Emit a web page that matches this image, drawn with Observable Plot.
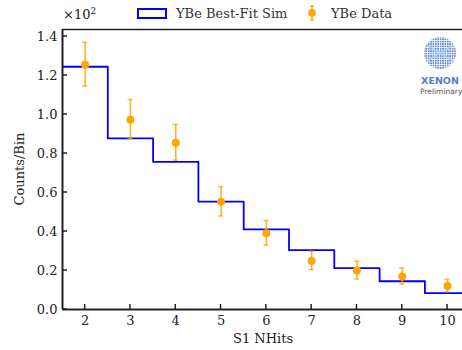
<!DOCTYPE html>
<html>
<head>
<meta charset="utf-8">
<script src="https://cdn.jsdelivr.net/npm/d3@7"></script>
<script src="https://cdn.jsdelivr.net/npm/@observablehq/plot@0.6"></script>
<style>
  html, body { margin: 0; padding: 0; background: #fff; overflow: hidden; }
  #wrap { position: relative; width: 462px; height: 350px; font-family: "DejaVu Serif", serif; color: #222; }
  .lab { position: absolute; font-size: 13px; white-space: nowrap; }
  #wrap svg text { font-family: "DejaVu Serif", serif !important; }
</style>
</head>
<body>
<div id="wrap"></div>
<script>
// ---- data ----
const bins = [2, 3, 4, 5, 6, 7, 8, 9, 10];
const simCounts = [1.245, 0.878, 0.757, 0.553, 0.411, 0.304, 0.212, 0.145, 0.084];
const dataCounts = [1.255, 0.973, 0.855, 0.552, 0.391, 0.249, 0.200, 0.169, 0.121];
const dataErr = [0.112, 0.101, 0.092, 0.075, 0.063, 0.047, 0.046, 0.042, 0.032];
const xTicks = [2, 3, 4, 5, 6, 7, 8, 9, 10];
const yTicks = [0, 0.2, 0.4, 0.6, 0.8, 1.0, 1.2, 1.4];

// step table: bin edges
const steps = bins.map((b, i) => ({x: b - 0.5, y: simCounts[i]}));
steps.push({x: bins[bins.length - 1] + 0.5, y: simCounts[simCounts.length - 1]});
const pts = bins.map((b, i) => ({x: b, y: dataCounts[i], lo: dataCounts[i] - dataErr[i], hi: dataCounts[i] + dataErr[i]}));

const xDom = [1.5, 10.33];
const yDom = [0, 1.436];
const axisColor = "#222";
const serif = "DejaVu Serif, serif";

const chart = Plot.plot({
  width: 462,
  height: 350,
  marginLeft: 62,
  marginRight: 0,
  marginTop: 29,
  marginBottom: 41,
  style: {fontFamily: serif, fontSize: "13px", color: "#222", background: "white"},
  x: {type: "linear", domain: xDom, label: null},
  y: {type: "linear", domain: yDom, label: null},
  marks: [
    Plot.line(steps, {x: "x", y: "y", curve: "step-after", stroke: "#0000ff", strokeWidth: 1.8, clip: true}),
    Plot.ruleX(pts, {x: "x", y1: "lo", y2: "hi", stroke: "orange", strokeWidth: 1.6, strokeOpacity: 0.85}),
    Plot.dot(pts, {x: "x", y: "y", r: 4, fill: "orange", stroke: "none"}),
    Plot.axisX(xTicks, {anchor: "bottom", tickSize: 0, tickPadding: 6, tickFormat: d => String(d), fontFamily: serif, fontSize: 13, fill: "#222", label: null}),
    Plot.axisY(yTicks, {anchor: "left", tickSize: 0, tickPadding: 5, tickFormat: d => d.toFixed(1), fontFamily: serif, fontSize: 13, fill: "#222", label: null}),
    Plot.ruleY([0], {stroke: axisColor, strokeWidth: 2}),
    Plot.ruleX([xDom[0]], {stroke: axisColor, strokeWidth: 2}),
    Plot.ruleY([yDom[1]], {stroke: axisColor, strokeWidth: 1.6})
  ]
});

const wrap = document.getElementById("wrap");
wrap.appendChild(chart);
const sx = chart.scale("x"), sy = chart.scale("y");
const svg = d3.select(chart);
svg.selectAll("text").attr("font-family", serif).style("font-family", serif);
// inward ticks, positioned with the chart's scales
const tg = svg.append("g").attr("stroke", axisColor).attr("stroke-width", 1.5);
const y0 = sy.apply(0), x0 = sx.apply(xDom[0]);
xTicks.forEach(t => tg.append("line").attr("x1", sx.apply(t)).attr("x2", sx.apply(t)).attr("y1", y0).attr("y2", y0 - 5));
yTicks.forEach(t => tg.append("line").attr("x1", x0).attr("x2", x0 + 5).attr("y1", sy.apply(t)).attr("y2", sy.apply(t)));
// caps on error bars
const capG = svg.append("g").attr("stroke", "orange").attr("stroke-width", 1.4).attr("stroke-opacity", 0.85);
pts.forEach(p => {
  [p.lo, p.hi].forEach(v => {
    capG.append("line")
      .attr("x1", sx.apply(p.x) - 2.5).attr("x2", sx.apply(p.x) + 2.5)
      .attr("y1", sy.apply(v)).attr("y2", sy.apply(v));
  });
});
</script>
<script>
// ---- overlays: legend, multiplier, axis labels, logo ----
const w = document.getElementById("wrap");
function addLab(html, css) {
  const d = document.createElement("div");
  d.className = "lab";
  d.innerHTML = html;
  Object.assign(d.style, css);
  w.appendChild(d);
  return d;
}
addLab("×10<sup style='font-size:9px;vertical-align:5px'>2</sup>", {left: "63px", top: "6px"});
addLab("<span style='display:inline-block;width:26px;height:7px;border:2px solid #0000ff;vertical-align:-1px;margin-right:9px'></span>YBe Best-Fit Sim", {left: "137px", top: "6px", color: "#333"});
addLab("<svg width='10' height='16' style='vertical-align:-3px;margin-right:14px'><line x1='5' x2='5' y1='1' y2='15' stroke='orange' stroke-width='1.5'/><line x1='3' x2='7' y1='1' y2='1' stroke='orange' stroke-width='1.3'/><line x1='3' x2='7' y1='15' y2='15' stroke='orange' stroke-width='1.3'/><circle cx='5' cy='8' r='3.8' fill='orange'/></svg>YBe Data", {left: "307px", top: "5px", color: "#333"});
addLab("S1 NHits", {left: "233px", top: "331px"});
addLab("Counts/Bin", {left: "19px", top: "169px", transform: "translate(-50%,-50%) rotate(-90deg)"});

// logo
const logo = document.createElement("div");
logo.style.cssText = "position:absolute;left:420px;top:36px;width:40px;text-align:center;font-family:'DejaVu Sans',sans-serif;";
logo.innerHTML = `
<svg width="34" height="34" style="display:block;margin:0 auto">
  <defs>
    <pattern id="grid" width="2.4" height="2.4" patternUnits="userSpaceOnUse">
      <rect width="1.7" height="1.7" fill="#6a86cc"/>
    </pattern>
    <clipPath id="cc"><circle cx="17" cy="17" r="16"/></clipPath>
  </defs>
  <circle cx="17" cy="17" r="16" fill="url(#grid)"/>
  <g clip-path="url(#cc)" stroke="#9fd6f0" stroke-width="1.6" opacity="0.9">
    <line x1="4" y1="9" x2="30" y2="25"/>
    <line x1="4" y1="25" x2="30" y2="9"/>
    <line x1="6" y1="17" x2="28" y2="17"/>
  </g>
</svg>
<div style="font-weight:bold;font-size:9.5px;color:#5b7ac4;margin-top:5px;line-height:11px">XENON</div>
<div style="font-size:7.5px;color:#555;line-height:10px;margin-top:1px">Preliminary</div>`;
w.appendChild(logo);
</script>
</body>
</html>
